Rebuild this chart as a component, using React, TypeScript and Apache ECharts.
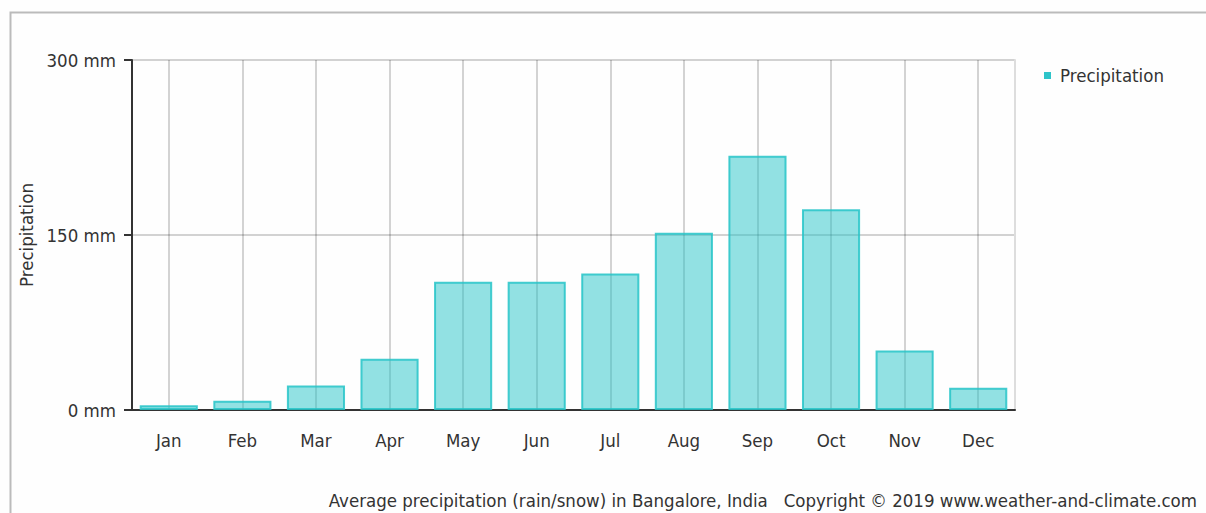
import React, { useEffect, useRef } from "react";
import * as echarts from "echarts";

const months = ["Jan", "Feb", "Mar", "Apr", "May", "Jun", "Jul", "Aug", "Sep", "Oct", "Nov", "Dec"];
const precipitation = [4, 8, 21, 44, 110, 110, 117, 152, 218, 172, 51, 19];
const yTicks = { min: 0, max: 300, interval: 150 };
const seriesName = "Precipitation";
const axisTitle = "Precipitation";
const footer = "Average precipitation (rain/snow) in Bangalore, India   Copyright © 2019 www.weather-and-climate.com";

const FONT = "'DejaVu Sans Condensed', 'DejaVu Sans', sans-serif";
const FS = 18.5;

export default function App() {
  const ref = useRef<HTMLDivElement>(null);
  useEffect(() => {
    document.body.style.margin = "0";
    const chart = echarts.init(ref.current!, null, { renderer: "svg" });
    chart.setOption({
      animation: false,
      backgroundColor: "#fefefe",
      textStyle: { fontFamily: FONT },
      grid: { left: 132, right: 191, top: 60, bottom: 103 },
      legend: {
        left: 1039,
        top: 61,
        icon: "rect",
        itemWidth: 7,
        itemHeight: 7,
        itemStyle: { color: "#2ec4c9", borderWidth: 0 },
        textStyle: { fontFamily: FONT, fontSize: FS, color: "#333", padding: [0, 0, 0, 4] },
        data: [seriesName],
      },
      xAxis: {
        type: "category",
        data: months,
        boundaryGap: true,
        axisLine: { lineStyle: { color: "#333", width: 2 } },
        axisTick: { alignWithLabel: true, length: 8, lineStyle: { color: "#333", width: 2 } },
        axisLabel: { fontFamily: FONT, fontSize: FS, color: "#333", margin: 21 },
        splitLine: { show: false },
      },
      yAxis: [
        {
          type: "value",
          min: yTicks.min,
          max: yTicks.max,
          interval: yTicks.interval,
          name: axisTitle,
          nameLocation: "middle",
          nameGap: 95,
          nameTextStyle: { fontFamily: FONT, fontSize: FS, color: "#333" },
          axisLine: { show: true, lineStyle: { color: "#333", width: 2 } },
          axisTick: { show: true, length: 8, lineStyle: { color: "#333", width: 2 } },
          axisLabel: { fontFamily: FONT, fontSize: FS, color: "#333", formatter: "{value} mm", margin: 16 },
          splitLine: { lineStyle: { color: "#d2d2d2", width: 2 } },
        },
        {
          type: "value",
          min: yTicks.min,
          max: yTicks.max,
          interval: yTicks.interval,
          position: "right",
          axisLine: { show: true, lineStyle: { color: "#ddd", width: 2 } },
          axisTick: { show: false },
          axisLabel: { show: false },
          splitLine: { show: false },
        },
      ],
      series: [
        {
          name: seriesName,
          type: "bar",
          data: precipitation,
          barCategoryGap: "21%",
          itemStyle: {
            color: "rgba(38, 196, 200, 0.5)",
            borderColor: "rgba(38, 196, 200, 0.85)",
            borderWidth: 2,
          },
          markLine: {
            silent: true,
            z: 1,
            symbol: "none",
            label: { show: false },
            lineStyle: { color: "rgba(0,0,0,0.17)", type: "solid", width: 2 },
            data: months.map((m) => ({ xAxis: m })),
          },
        },
      ],
      graphic: [
        {
          type: "rect",
          shape: { x: 10.5, y: 12.5, width: 1400, height: 700 },
          style: { fill: "none", stroke: "#bbb", lineWidth: 2 },
          silent: true,
        },
        {
          type: "text",
          right: 9,
          top: 491,
          style: { text: footer, fontFamily: FONT, fontSize: FS, fill: "#333" },
        },
      ],
    });
    return () => chart.dispose();
  }, []);
  return <div ref={ref} style={{ width: 1206, height: 513 }} />;
}
